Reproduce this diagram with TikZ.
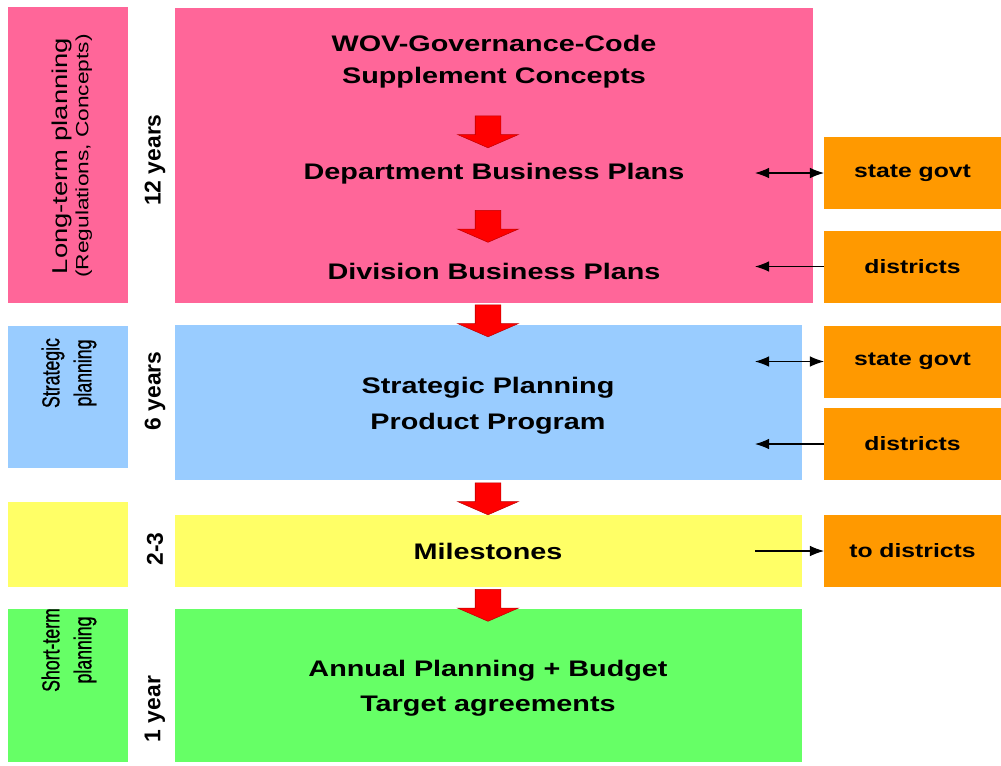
\documentclass[tikz,border=0pt]{standalone}
\usepackage{fontspec}
\setmainfont{Liberation Sans}[FakeStretch=1.28]
\newfontfamily\yearsfont{Liberation Sans}
\newfontfamily\narrowfont{Liberation Sans}[FakeStretch=0.72, FakeBold=0.8]
\usetikzlibrary{arrows.meta,shapes.arrows,fit}

\definecolor{longpink}{HTML}{FF6699}
\definecolor{stratblue}{HTML}{99CCFF}
\definecolor{mileyellow}{HTML}{FFFF66}
\definecolor{shortgreen}{HTML}{66FF66}
\definecolor{partnerorange}{HTML}{FF9900}

\tikzstyle {band} = [inner sep=0, outer sep=0]
\tikzstyle {partner} = [band, fill=partnerorange, minimum width=3.54cm, minimum height=1.44cm,
  font=\fontsize{11}{13}\selectfont\bfseries]
\tikzstyle {stage} = [align=center, font=\fontsize{12.8}{19.5}\selectfont\bfseries]
\tikzstyle {period} = [rotate=90, font=\yearsfont\fontsize{13}{15}\selectfont\bfseries]
\tikzstyle {phase} = [rotate=90, align=center]
\tikzstyle {flow} = [single arrow, rotate=-90, fill=red, draw=red!75!black, line width=0.3pt,
  inner xsep=0, inner ysep=0.25cm, minimum height=0.64cm, minimum width=0cm,
  single arrow head extend=0.35cm, single arrow tip angle=133]
\tikzstyle {link} = [line width=0.6pt]

\begin{document}
\begin{tikzpicture}[x=0.02cm, y=-0.02cm]
            \useasboundingbox (0,0) rectangle (1001,765);
            % coloured bands
            \node [band, fill=longpink, fit={(8,7)(128,303)}] (longleft) {};
            \node [band, fill=longpink, fit={(175,8)(813,303)}] (longband) {};
            \node [band, fill=stratblue, fit={(8,326)(128,468)}] (stratleft) {};
            \node [band, fill=stratblue, fit={(175,325)(802,480)}] (stratband) {};
            \node [band, fill=mileyellow, fit={(8,502)(128,587)}] (mileleft) {};
            \node [band, fill=mileyellow, fit={(175,515)(802,587)}] (mileband) {};
            \node [band, fill=shortgreen, fit={(8,609)(128,762)}] (shortleft) {};
            \node [band, fill=shortgreen, fit={(175,609)(802,762)}] (shortband) {};
            % partners
            \node [partner] (govt1) at (912.5,173) {state govt};
            \node [partner] (dist1) at (912.5,266.5) {districts};
            \node [partner] (govt2) at (912.5,361.5) {state govt};
            \node [partner] (dist2) at (912.5,444) {districts};
            \node [partner] (dist3) at (912.5,551) {to districts};
            % phases and periods
            \node [phase] (longlabel) at (72,156) {\fontsize{12.2}{19}\selectfont Long-term planning\\
              \fontsize{10.1}{19}\selectfont (Regulations, Concepts)};
            \node [phase, font=\narrowfont\fontsize{14}{18.2}\selectfont] (stratlabel) at (69,373) {Strategic\\planning};
            \node [phase, font=\narrowfont\fontsize{14}{18.2}\selectfont] (shortlabel) at (69,650) {Short-term\\planning};
            \node [period] (p12) at (155,160) {12 years};
            \node [period] (p6) at (155,391) {6 years};
            \node [period] (p23) at (155,549) {2-3};
            \node [period] (p1) at (155,709) {1 year};
            % stages
            \node [stage, font=\fontsize{12.8}{18.2}\selectfont\bfseries] (govcode) at (494,62) {WOV-Governance-Code\\Supplement Concepts};
            \node [stage] (deptplans) at (494,174) {Department Business Plans};
            \node [stage] (divplans) at (494,271) {Division Business Plans};
            \node [stage, font=\fontsize{12.8}{20.5}\selectfont\bfseries] (stratprog) at (488,406) {Strategic Planning\\Product Program};
            \node [stage] (milestones) at (488,551) {Milestones};
            \node [stage, font=\fontsize{12.8}{20}\selectfont\bfseries] (annual) at (488,688) {Annual Planning + Budget\\Target agreements};
            % red flow arrows
            \foreach \y [count=\i] in {129,223.5,318,496,602.5}
                \node [flow] (flow\i) at (488,\y) {};
            % exchange with partners
            \coordinate (x1) at (755,173);
            \coordinate (x2) at (755,266.5);
            \coordinate (x3) at (755,361.5);
            \coordinate (x4) at (755,444);
            \coordinate (x5) at (755,551);
            \draw [link, {Latex[length=8pt,width=6pt]}-{Latex[length=8pt,width=6pt]}] (x1) -- (govt1.west);
            \draw [link, -{Latex[length=8pt,width=6pt]}] (dist1.west) -- (x2);
            \draw [link, {Latex[length=8pt,width=6pt]}-{Latex[length=8pt,width=6pt]}] (x3) -- (govt2.west);
            \draw [link, -{Latex[length=8pt,width=6pt]}] (dist2.west) -- (x4);
            \draw [link, -{Latex[length=8pt,width=6pt]}] (x5) -- (dist3.west);
        \end{tikzpicture}
\end{document}
